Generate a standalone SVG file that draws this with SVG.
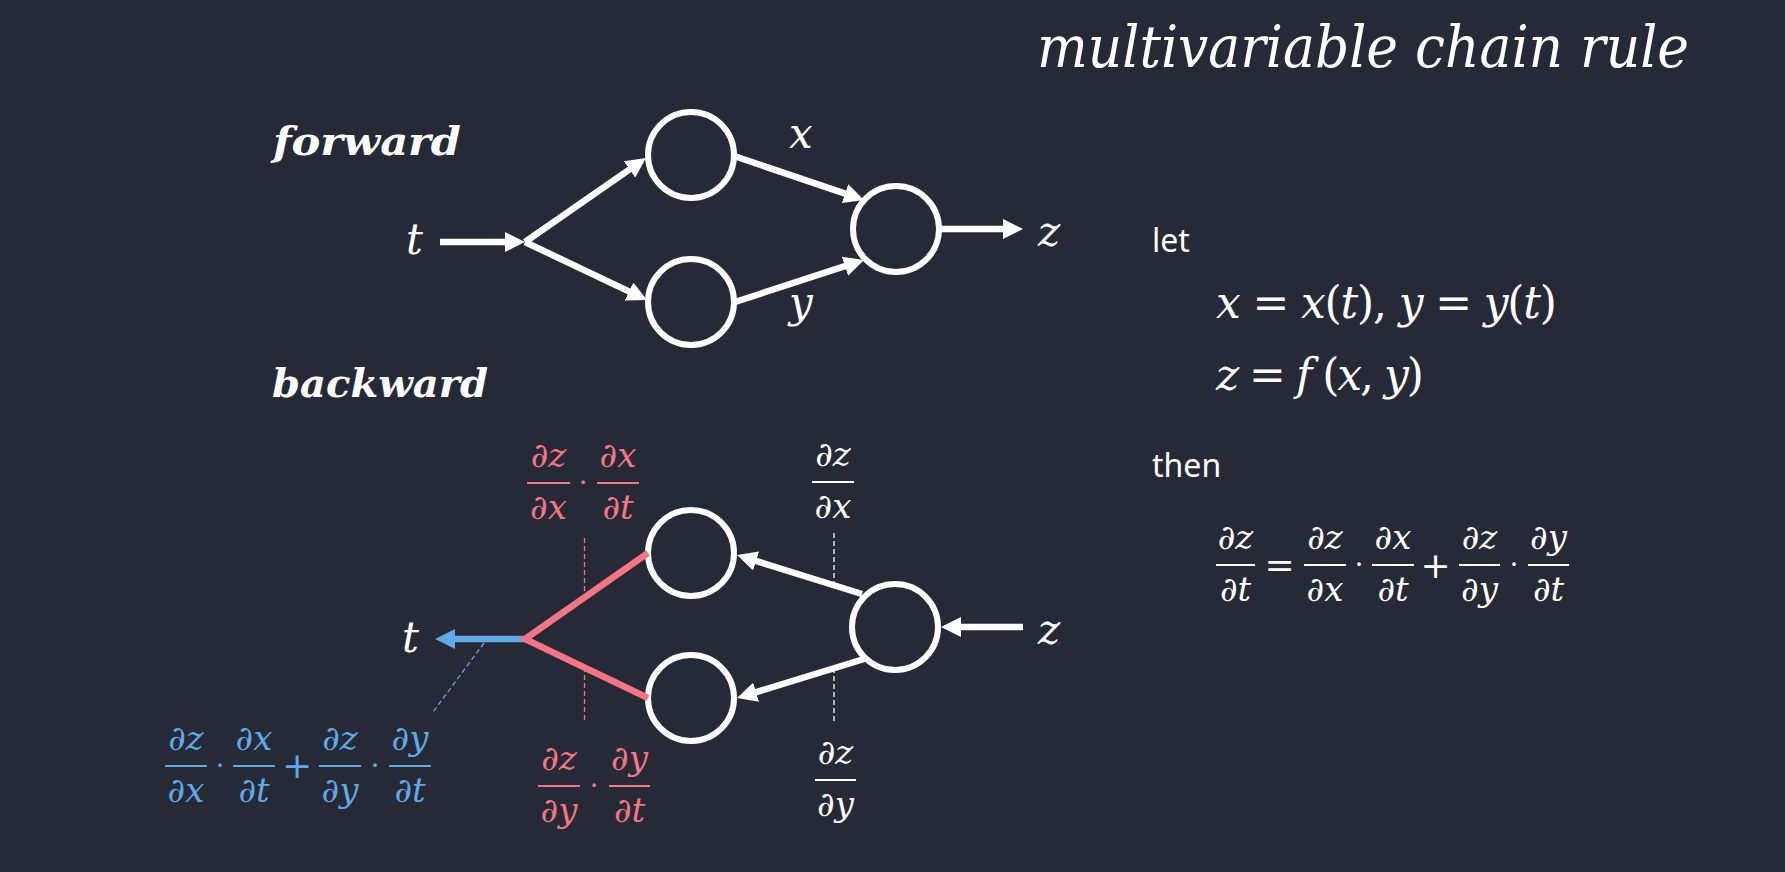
<svg xmlns="http://www.w3.org/2000/svg" width="1785" height="872" viewBox="0 0 1785 872">
  <style>
    .node { fill: none; stroke: #ffffff; stroke-width: 6; }
    .conn { fill: none; stroke: #ffffff; stroke-width: 6.5; }
    .red { stroke: #f57584; }
    .blue { stroke: #5ea9e6; }
    .math { font-family: "DejaVu Serif", "Liberation Serif", serif; font-style: italic; }
    .up { font-style: normal; }
    .var { font-size: 42px; fill: #ffffff; }
    .frac { font-size: 34px; text-anchor: middle; }
    .op { font-family: "DejaVu Serif", "Liberation Serif", serif; font-style: normal; text-anchor: middle; }
    .bar { stroke-width: 2; }
    .head { font-family: "DejaVu Serif", "Liberation Serif", serif; font-style: italic; font-weight: bold; font-size: 40px; fill: #ffffff; }
    .plain { font-family: "Noto Sans", "Open Sans", sans-serif; font-size: 32px; fill: #ffffff; }
    .dash { stroke-width: 1.3; stroke-dasharray: 5 3; fill: none; }
    .w { fill: #ffffff; }
    .r { fill: #f57584; }
    .b { fill: #5ea9e6; }
  </style>
  <defs>
    <marker id="ah" markerUnits="userSpaceOnUse" viewBox="0 0 20 20" markerWidth="20" markerHeight="20" refX="8" refY="10" orient="auto">
      <path d="M0,0 L20,10 L0,20 z" fill="#ffffff"/>
    </marker>
    <marker id="ahb" markerUnits="userSpaceOnUse" viewBox="0 0 20 20" markerWidth="20" markerHeight="20" refX="8" refY="10" orient="auto">
      <path d="M0,0 L20,10 L0,20 z" fill="#5ea9e6"/>
    </marker>
  </defs>

  <rect x="0" y="0" width="1785" height="872" fill="#262a36"/>

  <!-- title -->
  <text class="math" x="1037" y="67" font-size="57" fill="#ffffff" textLength="652" lengthAdjust="spacingAndGlyphs">multivariable chain rule</text>

  <!-- section headings -->
  <text class="head" x="273" y="155" textLength="188" lengthAdjust="spacingAndGlyphs">forward</text>
  <text class="head" x="272" y="397" textLength="216" lengthAdjust="spacingAndGlyphs">backward</text>

  <!-- forward nodes -->
  <g id="node-fwd-x"><circle class="node" cx="691" cy="155" r="43"/></g>
  <g id="node-fwd-y"><circle class="node" cx="691" cy="302" r="43"/></g>
  <g id="node-fwd-z"><circle class="node" cx="896" cy="229" r="43"/></g>

  <!-- backward nodes -->
  <g id="node-bwd-x"><circle class="node" cx="691" cy="553" r="43"/></g>
  <g id="node-bwd-y"><circle class="node" cx="691" cy="698" r="43"/></g>
  <g id="node-bwd-z"><circle class="node" cx="895" cy="627" r="43"/></g>

  <!-- connectors -->
  <g id="connectors">
    <!-- forward -->
    <line class="conn" x1="440" y1="242" x2="513" y2="242" marker-end="url(#ah)"/>
    <line class="conn" x1="525" y1="242" x2="636.1" y2="164.8" marker-end="url(#ah)"/>
    <line class="conn" x1="525" y1="242" x2="636.2" y2="294.9" marker-end="url(#ah)"/>
    <line class="conn" x1="734" y1="156" x2="852.6" y2="196.2" marker-end="url(#ah)"/>
    <line class="conn" x1="735" y1="302" x2="852.6" y2="263.7" marker-end="url(#ah)"/>
    <line class="conn" x1="939" y1="229" x2="1011" y2="229" marker-end="url(#ah)"/>
    <!-- backward -->
    <line class="conn" x1="1023" y1="627" x2="953" y2="627" marker-end="url(#ah)"/>
    <line class="conn" x1="862" y1="594" x2="748.5" y2="558.6" marker-end="url(#ah)"/>
    <line class="conn" x1="864" y1="659" x2="748.5" y2="694.5" marker-end="url(#ah)"/>
    <line class="conn blue" x1="525" y1="639" x2="447" y2="639" marker-end="url(#ahb)"/>
    <path class="conn red" d="M648,553 L525,639 L648,698" stroke-linejoin="miter"/>
    <!-- dashed guides -->
    <line class="dash" stroke="#5ea9e6" x1="484" y1="643" x2="433" y2="712"/>
    <line class="dash" stroke="#f57584" x1="584.5" y1="538" x2="584.5" y2="597"/>
    <line class="dash" stroke="#f57584" x1="584.5" y1="667" x2="584.5" y2="723"/>
    <line class="dash" stroke="#ffffff" x1="834" y1="533" x2="834" y2="585"/>
    <line class="dash" stroke="#ffffff" x1="834" y1="668" x2="834" y2="723"/>
  </g>

  <!-- variable labels -->
  <g id="labels">
    <text class="math var" x="406" y="254">t</text>
    <text class="math var" x="789" y="148">x</text>
    <text class="math var" x="789" y="317">y</text>
    <text class="math var" x="1038" y="246">z</text>
    <text class="math var" x="402" y="652">t</text>
    <text class="math var" x="1038" y="644">z</text>
  </g>

  <!-- red top: dz/dx . dx/dt -->
  <g id="label-red-top" class="math frac r">
    <text x="548.5" y="467">∂z</text><line class="bar red" x1="527" y1="483" x2="570" y2="483"/><text x="548.5" y="519">∂x</text>
    <text class="op" x="583" y="492" font-size="27">·</text>
    <text x="618" y="467">∂x</text><line class="bar red" x1="597" y1="483" x2="639" y2="483"/><text x="618" y="519">∂t</text>
  </g>

  <!-- white top: dz/dx -->
  <g id="label-white-top" class="math frac w">
    <text x="833" y="466">∂z</text><line class="bar" stroke="#ffffff" x1="812" y1="482" x2="854" y2="482"/><text x="833" y="518">∂x</text>
  </g>

  <!-- red bottom: dz/dy . dy/dt -->
  <g id="label-red-bottom" class="math frac r">
    <text x="559" y="770">∂z</text><line class="bar red" x1="538" y1="786" x2="580" y2="786"/><text x="559" y="822">∂y</text>
    <text class="op" x="594" y="795" font-size="27">·</text>
    <text x="629.5" y="770">∂y</text><line class="bar red" x1="609" y1="786" x2="650" y2="786"/><text x="629.5" y="822">∂t</text>
  </g>

  <!-- white bottom: dz/dy -->
  <g id="label-white-bottom" class="math frac w">
    <text x="835.5" y="764">∂z</text><line class="bar" stroke="#ffffff" x1="815" y1="780" x2="856" y2="780"/><text x="835.5" y="816">∂y</text>
  </g>

  <!-- blue sum -->
  <g id="label-blue" class="math frac b">
    <text x="186" y="750">∂z</text><line class="bar blue" x1="165" y1="766" x2="207" y2="766"/><text x="186" y="802">∂x</text>
    <text class="op" x="220" y="775" font-size="27">·</text>
    <text x="254" y="750">∂x</text><line class="bar blue" x1="233" y1="766" x2="275" y2="766"/><text x="254" y="802">∂t</text>
    <text class="op" x="297" y="778" font-size="36">+</text>
    <text x="340" y="750">∂z</text><line class="bar blue" x1="319" y1="766" x2="361" y2="766"/><text x="340" y="802">∂y</text>
    <text class="op" x="375" y="775" font-size="27">·</text>
    <text x="410" y="750">∂y</text><line class="bar blue" x1="389" y1="766" x2="431" y2="766"/><text x="410" y="802">∂t</text>
  </g>

  <!-- right-side definitions -->
  <g id="definitions">
    <text class="plain" x="1152" y="252">let</text>
    <text class="math" x="1216" y="318" font-size="44" fill="#ffffff" textLength="341" lengthAdjust="spacing">x <tspan class="up">=</tspan> x<tspan class="up">(</tspan>t<tspan class="up">),</tspan> y <tspan class="up">=</tspan> y<tspan class="up">(</tspan>t<tspan class="up">)</tspan></text>
    <text class="math" x="1216" y="390" font-size="44" fill="#ffffff" textLength="208" lengthAdjust="spacing">z <tspan class="up">=</tspan> f <tspan class="up">(</tspan>x<tspan class="up">,</tspan> y<tspan class="up">)</tspan></text>
    <text class="plain" x="1152" y="477">then</text>
  </g>

  <g id="chain-rule" class="math frac w">
    <text x="1235.5" y="549">∂z</text><line class="bar" stroke="#ffffff" x1="1216" y1="565" x2="1255" y2="565"/><text x="1235.5" y="601">∂t</text>
    <text class="op" x="1279.5" y="577" font-size="36">=</text>
    <text x="1325" y="549">∂z</text><line class="bar" stroke="#ffffff" x1="1304" y1="565" x2="1346" y2="565"/><text x="1325" y="601">∂x</text>
    <text class="op" x="1359" y="574" font-size="27">·</text>
    <text x="1393" y="549">∂x</text><line class="bar" stroke="#ffffff" x1="1372" y1="565" x2="1414" y2="565"/><text x="1393" y="601">∂t</text>
    <text class="op" x="1435.5" y="578" font-size="36">+</text>
    <text x="1479.5" y="549">∂z</text><line class="bar" stroke="#ffffff" x1="1459" y1="565" x2="1500" y2="565"/><text x="1479.5" y="601">∂y</text>
    <text class="op" x="1514" y="574" font-size="27">·</text>
    <text x="1548.5" y="549">∂y</text><line class="bar" stroke="#ffffff" x1="1528" y1="565" x2="1569" y2="565"/><text x="1548.5" y="601">∂t</text>
  </g>
</svg>
